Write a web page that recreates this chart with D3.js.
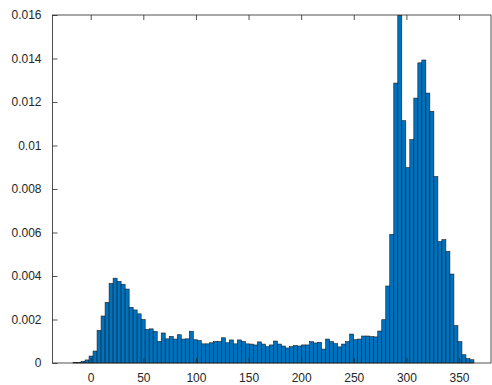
<!DOCTYPE html>
<html>
<head>
<meta charset="utf-8">
<script src="https://cdn.jsdelivr.net/npm/d3@7"></script>
<style>
  html, body { margin: 0; padding: 0; background: #ffffff; }
  svg { display: block; }
</style>
</head>
<body>
<svg id="chart" width="492" height="385"></svg>
<script>
// Histogram (pdf normalisation), 100 equal bins.

const binStart = -16.8;
const binWidth = 3.81;

const density = [
  0.00002, 0.00003, 0.00008, 0.00014, 0.00032, 0.00055, 0.0015, 0.00216, 0.00279, 0.00366,
  0.0039, 0.00375, 0.00362, 0.0034, 0.00256, 0.00244, 0.00226, 0.002, 0.00154, 0.00157,
  0.00145, 0.00099, 0.00138, 0.00111, 0.00122, 0.0011, 0.0013, 0.0011, 0.00111, 0.00146,
  0.00107, 0.00103, 0.00088, 0.00088, 0.00093, 0.00099, 0.00099, 0.00116, 0.00093, 0.00106,
  0.00088, 0.00106, 0.00099, 0.00088, 0.00087, 0.00083, 0.00097, 0.00087, 0.00075, 0.00083,
  0.00101, 0.00087, 0.00078, 0.00069, 0.00075, 0.0008, 0.00078, 0.00083, 0.00083, 0.00098,
  0.00092, 0.00095, 0.00064, 0.0011, 0.00098, 0.00089, 0.00074, 0.00087, 0.00098, 0.00133,
  0.00107, 0.0011, 0.00124, 0.00124, 0.00121, 0.0012, 0.00147, 0.00199, 0.00354, 0.00591,
  0.01287, 0.01598, 0.01114, 0.00898, 0.01027, 0.01218, 0.0138, 0.01393, 0.01241, 0.01157,
  0.00857, 0.00558, 0.00567, 0.00513, 0.00409, 0.00172, 0.00098, 0.00038, 0.0002, 0.00015
];

const xTicks = [0, 50, 100, 150, 200, 250, 300, 350];
const yTicks = [0, 0.002, 0.004, 0.006, 0.008, 0.01, 0.012, 0.014, 0.016];

const bins = density.map((v, i) => ({
  x0: binStart + i * binWidth,
  x1: binStart + (i + 1) * binWidth,
  value: v
}));

const svg = d3.select("#chart");
const plot = { left: 52.5, right: 491, top: 15, bottom: 363 };

const x = d3.scaleLinear().domain([-36.3, 380.4]).range([plot.left, plot.right]);
const y = d3.scaleLinear().domain([0, 0.016]).range([plot.bottom, plot.top]);

const axisColor = "#262626";
const font = "'Liberation Sans', Arial, Helvetica, sans-serif";

// bars
svg.append("g")
  .selectAll("rect")
  .data(bins)
  .join("rect")
  .attr("x", d => x(d.x0))
  .attr("y", d => y(d.value))
  .attr("width", d => x(d.x1) - x(d.x0))
  .attr("height", d => y(0) - y(d.value))
  .attr("fill", "#0072bd")
  .attr("stroke", "#1c1c1c")
  .attr("stroke-width", 0.6);

// box
svg.append("rect")
  .attr("x", plot.left)
  .attr("y", plot.top)
  .attr("width", plot.right - plot.left)
  .attr("height", plot.bottom - plot.top)
  .attr("fill", "none")
  .attr("stroke", axisColor)
  .attr("stroke-width", 0.8);

// ticks pointing inwards (matlab style)
const xAxisBottom = d3.axisBottom(x).tickValues(xTicks).tickSize(-5).tickFormat(d => d).tickPadding(10);
const xAxisTop = d3.axisTop(x).tickValues(xTicks).tickSize(-5).tickFormat("");
const yAxisLeft = d3.axisLeft(y).tickValues(yTicks).tickSize(-5)
  .tickFormat(d => String(+d.toFixed(3))).tickPadding(11);

function style(g) {
  g.select(".domain").remove();
  g.selectAll(".tick line").attr("stroke", axisColor).attr("stroke-width", 0.8);
  g.selectAll(".tick text")
    .attr("fill", axisColor)
    .attr("font-family", font)
    .attr("font-size", 12);
}

svg.append("g").attr("transform", `translate(0,${plot.bottom})`).call(xAxisBottom).call(style);
svg.append("g").attr("transform", `translate(0,${plot.top})`).call(xAxisTop).call(style);
svg.append("g").attr("transform", `translate(${plot.left},0)`).call(yAxisLeft).call(style);
</script>
</body>
</html>
